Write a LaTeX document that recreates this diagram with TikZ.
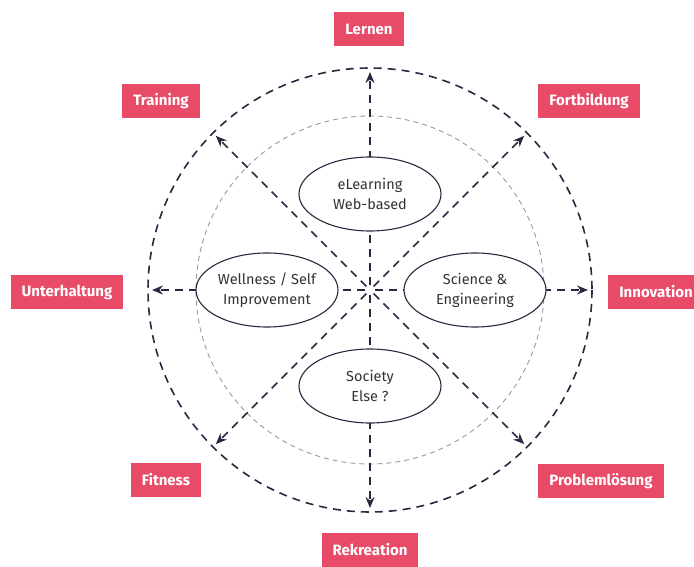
\documentclass[tikz,border=0pt]{standalone}
\usepackage{fontspec}
\setmainfont{Fira Sans}
\usetikzlibrary{arrows.meta,shapes.geometric,calc}
\definecolor{navy}{HTML}{262A40}
\definecolor{tagpink}{HTML}{E84B68}
\definecolor{ringgrey}{HTML}{9A9A9A}
\definecolor{ovaltext}{HTML}{333333}
\tikzset{
  tag/.style={fill=tagpink, text=white, font=\fontsize{15}{18}\selectfont\bfseries,
    minimum height=34pt, inner xsep=11pt, inner ysep=0pt},
  oval/.style={ellipse, draw=navy, line width=1.1pt, fill=white, text=ovaltext,
    minimum width=142pt, minimum height=74pt, inner sep=0pt, align=center,
    font=\fontsize{14.5}{20}\selectfont},
  spoke/.style={draw=navy, line width=1.6pt, dash pattern=on 8pt off 6pt,
    -{Stealth[length=11pt,width=9pt]}},
  outerring/.style={draw=navy, line width=1.6pt, dash pattern=on 8pt off 6pt},
  innerring/.style={draw=ringgrey, line width=0.9pt, dash pattern=on 5pt off 4pt},
}
\begin{document}
\begin{tikzpicture}[x=1pt,y=-1pt]
\useasboundingbox (0,0) rectangle (694,567);
\coordinate (c) at (370,290);
% rings
\draw[outerring] (c) circle[radius=222];
\draw[innerring] (c) circle[radius=174];
% spokes from the centre out to the ring
\foreach \ang/\nm in {90/n,45/ne,0/e,-45/se,-90/s,-135/sw,180/w,135/nw}{
  \coordinate (s\nm) at ($(c)+(\ang:5)$);
  \coordinate (t\nm) at ($(c)+(\ang:218)$);
  \draw[spoke] (s\nm) -- (t\nm);
}
% topic ovals
\node[oval] (elearn) at (370,194) {eLearning\\Web-based};
\node[oval] (well) at (267,290) {Wellness / Self\\Improvement};
\node[oval] (sci) at (475,290) {Science \&\\Engineering};
\node[oval] (soc) at (370,386) {Society\\Else ?};
% outcome tags
\node[tag] (lernen) at (369,29) {Lernen};
\node[tag] (training) at (161,101) {Training};
\node[tag] (fortbildung) at (589,101) {Fortbildung};
\node[tag] (unterhaltung) at (67,292) {Unterhaltung};
\node[tag] (innovation) at (656,292) {Innovation};
\node[tag] (fitness) at (166,480) {Fitness};
\node[tag] (problem) at (601,481) {Problemlösung};
\node[tag] (rekreation) at (370,550) {Rekreation};
\end{tikzpicture}
\end{document}
